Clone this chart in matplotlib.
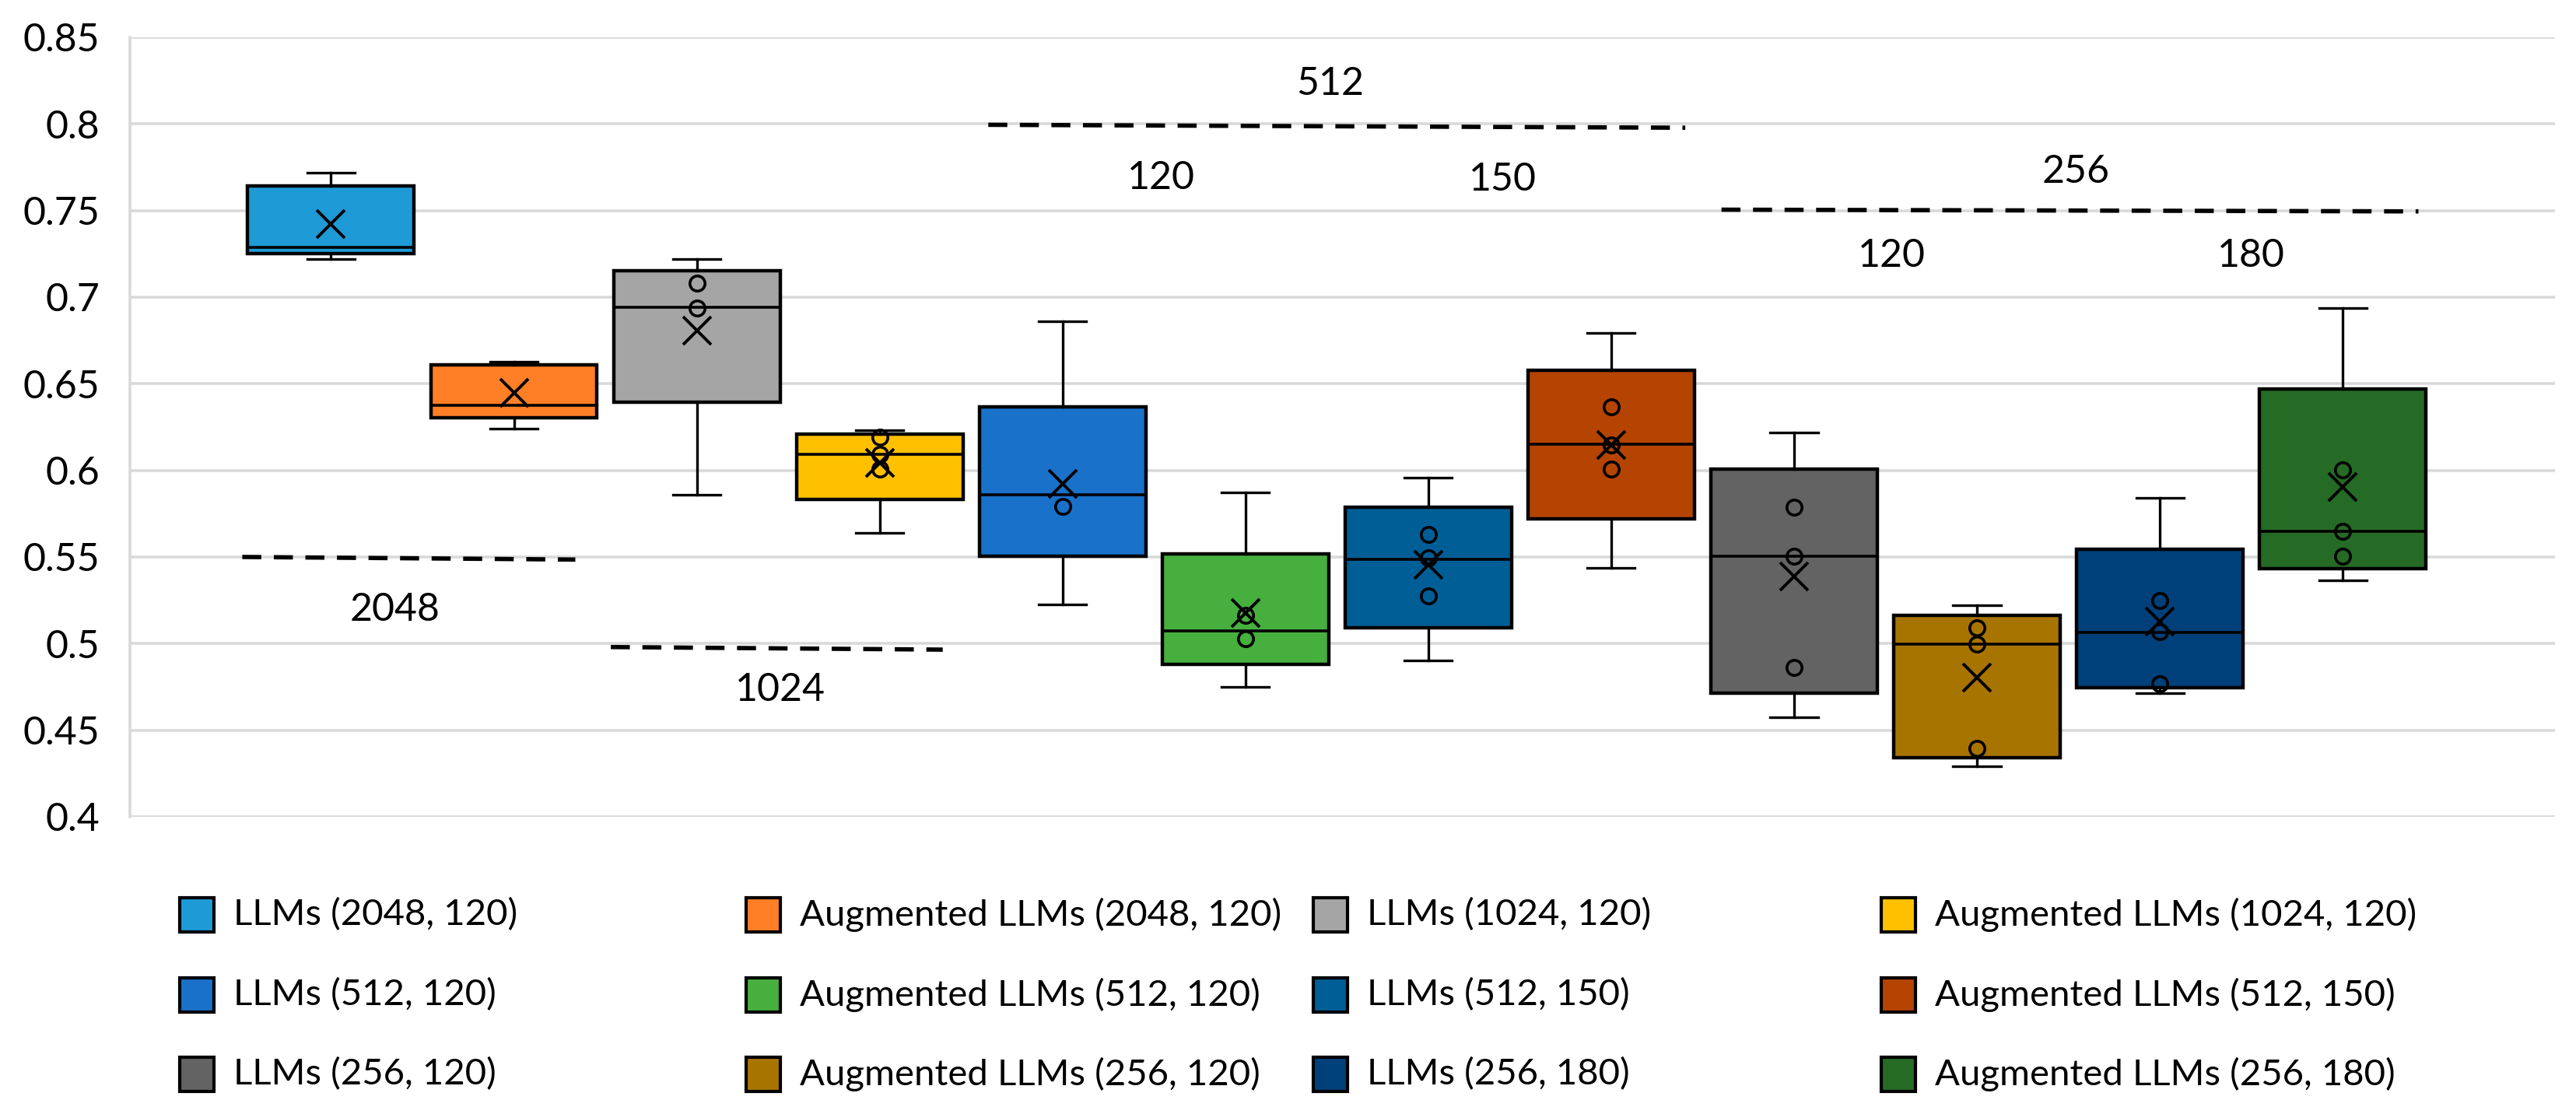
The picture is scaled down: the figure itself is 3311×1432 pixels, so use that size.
import matplotlib
matplotlib.use("Agg")
import matplotlib.pyplot as plt
from matplotlib.patches import Rectangle

plt.rcParams['font.family'] = ['Lato', 'DejaVu Sans']

# series, in drawing order
labels = ["LLMs (2048, 120)", "Augmented LLMs (2048, 120)", "LLMs (1024, 120)", "Augmented LLMs (1024, 120)",
          "LLMs (512, 120)", "Augmented LLMs (512, 120)", "LLMs (512, 150)", "Augmented LLMs (512, 150)",
          "LLMs (256, 120)", "Augmented LLMs (256, 120)", "LLMs (256, 180)", "Augmented LLMs (256, 180)"]
colors = ["#1E9BD7", "#FF7F27", "#A5A5A5", "#FFC000", "#1A71C9", "#46AF3E",
          "#005E96", "#B54400", "#636363", "#A87400", "#00407A", "#256A25"]

# box statistics
q1 = [0.7251, 0.6302, 0.6394, 0.5830, 0.5506, 0.4879, 0.5090, 0.5720, 0.4715, 0.4341, 0.4747, 0.5433]
med = [0.7288, 0.6375, 0.6942, 0.6094, 0.5861, 0.5071, 0.5487, 0.6151, 0.5506, 0.4999, 0.5062, 0.5647]
q3 = [0.7644, 0.6611, 0.7153, 0.6211, 0.6366, 0.5518, 0.5789, 0.6576, 0.6009, 0.5162, 0.5543, 0.6472]
whislo = [0.7222, 0.6242, 0.5861, 0.5641, 0.5225, 0.4750, 0.4901, 0.5436, 0.4574, 0.4293, 0.4715, 0.5364]
whishi = [0.7720, 0.6627, 0.7222, 0.6234, 0.6860, 0.5871, 0.5959, 0.6791, 0.6220, 0.5222, 0.5839, 0.6935]
means = [0.7424, 0.6447, 0.6807, 0.6044, 0.5921, 0.5175, 0.5455, 0.6145, 0.5389, 0.4804, 0.5128, 0.5902]
inner_points = [[], [], [0.708, 0.6935], [0.619, 0.6094, 0.6006], [0.5792], [0.5165, 0.5026],
                [0.5631, 0.5496, 0.5275], [0.6366, 0.6148, 0.6006], [0.5786, 0.5506, 0.4863],
                [0.509, 0.4996, 0.4394], [0.5248, 0.5068, 0.4769], [0.6003, 0.5647, 0.5503]]

# group annotations: (label, x0, x1, y0, y1, label_x, label_y)
group_lines = [("2048", -0.485, 1.336, 0.5500, 0.5485, 0.35, 0.5194),
               ("1024", 1.53, 3.345, 0.4980, 0.4965, 2.455, 0.4732),
               ("512", 3.594, 7.405, 0.7995, 0.7978, 5.465, 0.8229),
               ("256", 7.603, 11.414, 0.7505, 0.7495, 9.54, 0.7723)]
sub_labels = [("120", 4.54, 0.7688), ("150", 6.405, 0.7678),
              ("120", 8.535, 0.7236), ("180", 10.5, 0.7236)]

fig = plt.figure(figsize=(16.555, 7.16), dpi=200)
ax = fig.add_axes([0.0504, 0.2668, 0.9414, 0.6997])

stats = []
for i in range(len(labels)):
    stats.append({"q1": q1[i], "med": med[i], "q3": q3[i], "whislo": whislo[i],
                  "whishi": whishi[i], "mean": means[i], "fliers": [], "label": labels[i]})

pos = list(range(len(labels)))
bp = ax.bxp(stats, positions=pos, widths=0.91, patch_artist=True, showmeans=True,
            showfliers=False, capwidths=0.26,
            boxprops=dict(edgecolor="black", linewidth=1.6),
            medianprops=dict(color="black", linewidth=1.3),
            whiskerprops=dict(color="black", linewidth=1.2),
            capprops=dict(color="black", linewidth=1.2),
            meanprops=dict(marker="x", markeredgecolor="black", markersize=13, markeredgewidth=1.4))
for box, c in zip(bp["boxes"], colors):
    box.set_facecolor(c)

for i, pts in enumerate(inner_points):
    if pts:
        ax.plot([i] * len(pts), pts, "o", markerfacecolor="none", markeredgecolor="black",
                markersize=7, markeredgewidth=1.3, zorder=4)

for name, x0, x1, y0, y1, lx, ly in group_lines:
    ax.plot([x0, x1], [y0, y1], color="black", linewidth=2, dashes=(4.4, 2.9))
    ax.text(lx, ly, name, ha="center", va="center", fontsize=18)
for name, lx, ly in sub_labels:
    ax.text(lx, ly, name, ha="center", va="center", fontsize=18)

ax.set_xlim(-1.1, 12.16)
ax.set_ylim(0.4, 0.85)
ax.set_yticks([0.4, 0.45, 0.5, 0.55, 0.6, 0.65, 0.7, 0.75, 0.8, 0.85])
ax.set_yticklabels(["0.4", "0.45", "0.5", "0.55", "0.6", "0.65", "0.7", "0.75", "0.8", "0.85"])
ax.set_xticks([])
ax.tick_params(axis="y", length=0, pad=14, labelsize=18)
ax.grid(axis="y", color="#D9D9D9", linewidth=1.3)
ax.set_axisbelow(True)
for s in ["top", "right", "bottom"]:
    ax.spines[s].set_visible(False)
ax.spines["left"].set_color("#D9D9D9")
ax.spines["left"].set_linewidth(1.3)

# legend laid out on a fixed grid like the original
W, H = 3311, 1432
col_x = [231, 959, 1688, 2418]
row_y = [1176, 1279, 1381]
for i, (lab, c) in enumerate(zip(labels, colors)):
    r, k = divmod(i, 4)
    x, y = col_x[k], row_y[r]
    fig.patches.append(Rectangle((x / W, 1 - (y + 22) / H), 44 / W, 44 / H, transform=fig.transFigure,
                                 facecolor=c, edgecolor="black", linewidth=1.5))
    fig.text((x + 69) / W, 1 - y / H, lab, ha="left", va="center", fontsize=17)

fig.savefig("out.png", dpi=200)
